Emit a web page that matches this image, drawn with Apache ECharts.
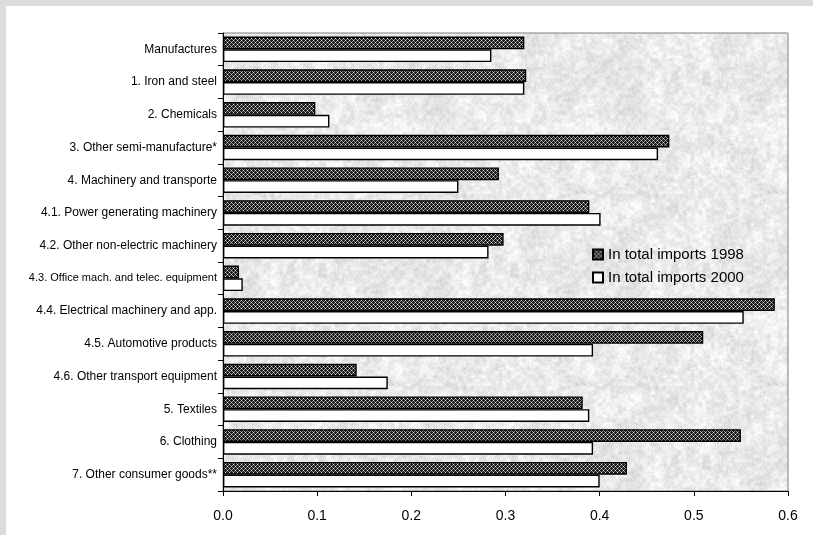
<!DOCTYPE html>
<html>
<head>
<meta charset="utf-8">
<script src="https://cdn.jsdelivr.net/npm/echarts@6/dist/echarts.min.js"></script>
<style>
  html, body { margin: 0; padding: 0; background: #ffffff; overflow: hidden; width: 813px; height: 535px; }
  #chart { position: absolute; left: 0; top: 0; width: 813px; height: 535px; }
  .strip { position: absolute; background: #dcdcdc; z-index: 2; }
</style>
</head>
<body>
<div id="chart"></div>
<div class="strip" style="left:0;top:0;width:813px;height:6px"></div>
<div class="strip" style="left:0;top:0;width:6px;height:535px"></div>
<script>
// Import shares by product group
const categories = [
  'Manufactures',
  '1. Iron and steel',
  '2. Chemicals',
  '3. Other semi-manufacture*',
  '4. Machinery and transporte',
  '4.1. Power generating machinery',
  '4.2. Other non-electric machinery',
  '4.3. Office mach. and telec. equipment',
  '4.4. Electrical machinery and app.',
  '4.5. Automotive products',
  '4.6. Other transport equipment',
  '5. Textiles',
  '6. Clothing',
  '7. Other consumer goods**'
];
const imports1998 = [0.320, 0.322, 0.098, 0.474, 0.293, 0.389, 0.298, 0.017, 0.586, 0.510, 0.142, 0.382, 0.550, 0.429];
const imports2000 = [0.285, 0.320, 0.113, 0.462, 0.250, 0.401, 0.282, 0.021, 0.553, 0.393, 0.175, 0.389, 0.393, 0.400];
const xTicks = [0, 0.1, 0.2, 0.3, 0.4, 0.5, 0.6];

// Deterministic hash for the granite-like plot texture
function hash(x, y) {
  let h = (Math.imul(x, 374761393) + Math.imul(y, 668265263)) | 0;
  h = Math.imul(h ^ (h >>> 13), 1274126177);
  return ((h ^ (h >>> 16)) >>> 0) / 4294967295;
}
function valueNoise(x, y, cell, size) {
  const n = size / cell;
  const gx = x / cell, gy = y / cell;
  const x0 = Math.floor(gx), y0 = Math.floor(gy);
  const fx = gx - x0, fy = gy - y0;
  const sx = fx * fx * (3 - 2 * fx), sy = fy * fy * (3 - 2 * fy);
  const a = hash(x0 % n, y0 % n), b = hash((x0 + 1) % n, y0 % n);
  const c = hash(x0 % n, (y0 + 1) % n), d = hash((x0 + 1) % n, (y0 + 1) % n);
  return (a * (1 - sx) + b * sx) * (1 - sy) + (c * (1 - sx) + d * sx) * sy;
}
function makeTexture() {
  const size = 192;
  const cv = document.createElement('canvas');
  cv.width = size; cv.height = size;
  const ctx = cv.getContext('2d');
  const img = ctx.createImageData(size, size);
  for (let y = 0; y < size; y++) {
    for (let x = 0; x < size; x++) {
      const v = 0.3 * valueNoise(x, y, 16, size) + 0.4 * valueNoise(x, y, 4, size) + 0.3 * valueNoise(x, y, 2, size);
      let g = 206 + v * 58 + (hash(x + 7, y + 11) - 0.5) * 10;
      g = Math.max(200, Math.min(253, g));
      const i = (y * size + x) * 4;
      img.data[i] = g; img.data[i + 1] = g; img.data[i + 2] = g; img.data[i + 3] = 255;
    }
  }
  ctx.putImageData(img, 0, 0);
  return cv;
}
// Small dotted-check hatch for the 1998 bars
function makeHatch() {
  const cv = document.createElement('canvas');
  cv.width = 4; cv.height = 4;
  const ctx = cv.getContext('2d');
  ctx.fillStyle = '#1a1a1a';
  ctx.fillRect(0, 0, 4, 4);
  ctx.fillStyle = '#e0e0e0';
  ctx.fillRect(1, 0, 1, 1);
  ctx.fillRect(3, 2, 1, 1);
  ctx.fillStyle = '#8a8a8a';
  ctx.fillRect(0, 1, 1, 1);
  ctx.fillRect(2, 1, 1, 1);
  ctx.fillRect(2, 3, 1, 1);
  ctx.fillRect(0, 3, 1, 1);
  return cv;
}

const font = '"Liberation Sans", Arial, sans-serif';
const chart = echarts.init(document.getElementById('chart'), null, { renderer: 'canvas' });
chart.setOption({
  animation: false,
  backgroundColor: 'transparent',
  grid: {
    left: 223, top: 33, right: 25, bottom: 44,
    show: true,
    backgroundColor: { image: makeTexture(), repeat: 'repeat' },
    borderColor: '#808080',
    borderWidth: 1
  },
  legend: {
    orient: 'vertical',
    left: 587, top: 242,
    itemWidth: 10, itemHeight: 10,
    itemGap: 8,
    itemTextGap: 3,
    icon: 'rect',
    textStyle: { fontFamily: font, fontSize: 15, color: '#000' },
    data: ['In total imports 1998', 'In total imports 2000']
  },
  xAxis: {
    type: 'value',
    min: 0, max: 0.6, interval: 0.1,
    axisLine: { show: true, lineStyle: { color: '#000', width: 1 } },
    axisTick: { show: true, length: 5, lineStyle: { color: '#000' } },
    splitLine: { show: false },
    axisLabel: {
      margin: 18,
      fontFamily: font, fontSize: 14, color: '#000',
      formatter: v => {
        const t = xTicks.find(k => Math.abs(k - v) < 1e-9);
        return (t !== undefined ? t : v).toFixed(1);
      }
    }
  },
  yAxis: {
    type: 'category',
    inverse: true,
    data: categories,
    axisLine: { show: true, lineStyle: { color: '#000', width: 1 } },
    axisTick: { show: true, length: 5, interval: 0, lineStyle: { color: '#000' } },
    axisLabel: {
      margin: 6, fontFamily: font, fontSize: 12, color: '#000', interval: 0,
      formatter: v => v.length > 34 ? '{narrow|' + v + '}' : v,
      rich: { narrow: { fontFamily: font, fontSize: 11, color: '#000' } }
    }
  },
  series: [
    {
      name: 'In total imports 1998',
      type: 'bar',
      data: imports1998,
      barGap: '0%',
      barCategoryGap: '22%',
      itemStyle: { color: { image: makeHatch(), repeat: 'repeat' }, borderColor: '#000', borderWidth: 1.4 }
    },
    {
      name: 'In total imports 2000',
      type: 'bar',
      data: imports2000,
      itemStyle: { color: '#ffffff', borderColor: '#000', borderWidth: 1.4 }
    }
  ]
});
</script>
</body>
</html>
